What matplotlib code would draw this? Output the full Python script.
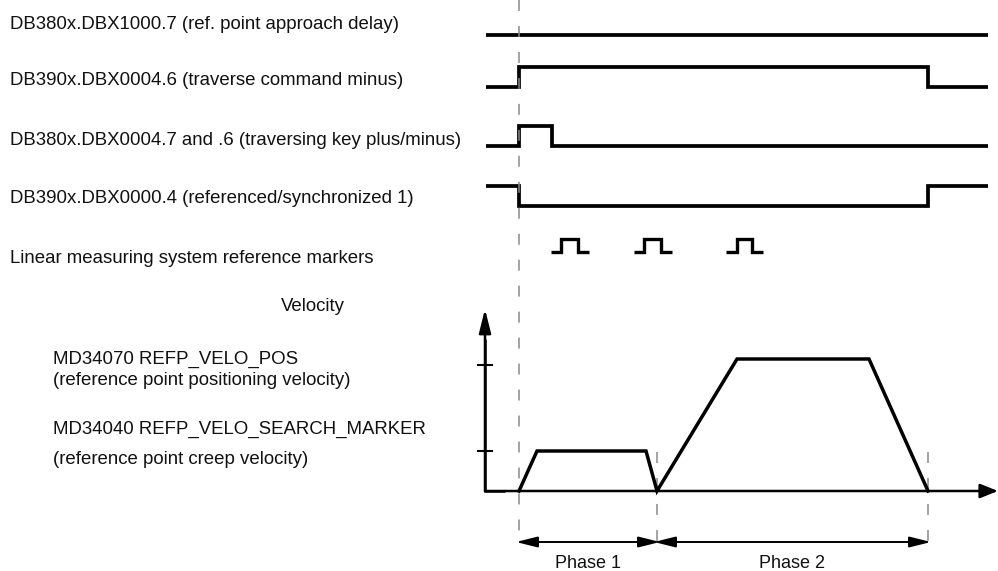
import matplotlib
matplotlib.use("Agg")
import matplotlib.pyplot as plt

plt.rcParams['font.family'] = ['Liberation Sans', 'DejaVu Sans']
plt.rcParams['lines.scale_dashes'] = False

# ---------------- data ----------------
# signal labels (top to bottom)
signal_labels = [
    "DB380x.DBX1000.7 (ref. point approach delay)",
    "DB390x.DBX0004.6 (traverse command minus)",
    "DB380x.DBX0004.7 and .6 (traversing key plus/minus)",
    "DB390x.DBX0000.4 (referenced/synchronized 1)",
    "Linear measuring system reference markers",
]
label_baselines = [29, 85, 145, 203, 263]

# time axis of the diagram (horizontal position units)
t_start, t_end = 486, 988
t_on = 519           # start of reference point approach
t_key_off = 552      # traversing key released
t_sync = 657         # reference marker found (end phase 1)
t_done = 928         # end of phase 2

# step signals: transition times and logic levels (steps-post)
sig1_t = [t_start, t_end]
sig1_v = [0, 0]
sig2_t = [t_start, t_on, t_done, t_end]
sig2_v = [0, 1, 0, 0]
sig3_t = [t_start, t_on, t_key_off, t_end]
sig3_v = [0, 1, 0, 0]
sig4_t = [t_start, t_on, t_done, t_end]
sig4_v = [1, 0, 1, 1]
signal_low = [35, 87, 146, 206]
signal_high_gap = 20

# reference marker pulses: (start, rise, fall, end)
marker_pulses = [(551, 561, 578, 589), (634, 644, 661, 672), (726, 737, 752, 763)]
marker_low, marker_height = 252, 13

# velocity profile
vel_t = [519, 537, 646, 657, 737, 869, 928]
vel_v = [0, 40, 40, 0, 132, 132, 0]
vel_ticks = [40, 126]
vel_axis_x, vel_axis_y = 485, 491
vel_axis_top = 309
time_axis_end = 998

vel_labels = ["MD34070 REFP_VELO_POS",
              "(reference point positioning velocity)",
              "MD34040 REFP_VELO_SEARCH_MARKER",
              "(reference point creep velocity)"]
vel_label_baselines = [364, 385, 434, 464]

phases = [("Phase 1", t_on, t_sync), ("Phase 2", t_sync, t_done)]

# ---------------- figure ----------------
fig = plt.figure(figsize=(9.98, 5.71), dpi=100)
ax = fig.add_axes([0, 0, 1, 1])
ax.set_xlim(0, 998)
ax.set_ylim(571, 0)
ax.axis('off')

FS = 13.45
TXT = '#111111'
# labels
for lab, yb in zip(signal_labels, label_baselines):
    ax.text(10, yb, lab, fontsize=FS, ha='left', va='baseline', color=TXT)

# step signals
for t, v, low in zip([sig1_t, sig2_t, sig3_t, sig4_t],
                     [sig1_v, sig2_v, sig3_v, sig4_v], signal_low):
    y = [low - signal_high_gap * vv for vv in v]
    ax.plot(t, y, drawstyle='steps-post', color='black', lw=2.7,
            solid_joinstyle='miter', solid_capstyle='butt')

# marker pulses
for (a, b, c, d) in marker_pulses:
    xs = [a, b, b, c, c, d]
    ys = [marker_low, marker_low, marker_low - marker_height,
          marker_low - marker_height, marker_low, marker_low]
    ax.plot(xs, ys, color='black', lw=2.4, solid_joinstyle='miter',
            solid_capstyle='butt')

# dashed guide lines
dash_kw = dict(color='#8a8a8a', lw=1.1, dashes=(7.9, 10.8))
ax.plot([t_on, t_on], [0, 545], **dash_kw)
ax.plot([t_sync, t_sync], [452, 545], **dash_kw)
ax.plot([t_done, t_done], [452, 545], **dash_kw)

# velocity axes
ax.plot([vel_axis_x, vel_axis_x, vel_axis_x + 20],
        [vel_axis_top + 30, vel_axis_y, vel_axis_y], color='black', lw=1.8,
        solid_joinstyle='miter', solid_capstyle='butt')
ax.annotate('', xy=(vel_axis_x, vel_axis_top), xytext=(vel_axis_x, vel_axis_y),
            arrowprops=dict(arrowstyle='-|>,head_length=0.4,head_width=0.1',
                            mutation_scale=36, lw=1.8, color='black',
                            shrinkA=0, shrinkB=0))
ax.annotate('', xy=(time_axis_end, vel_axis_y), xytext=(vel_axis_x, vel_axis_y),
            arrowprops=dict(arrowstyle='-|>,head_length=0.3,head_width=0.12',
                            mutation_scale=36, lw=1.8, color='black',
                            shrinkA=0, shrinkB=0))
for tv in vel_ticks:
    ax.plot([vel_axis_x - 7, vel_axis_x + 7], [vel_axis_y - tv] * 2,
            color='black', lw=1.5)

# velocity profile
ax.plot(vel_t, [vel_axis_y - v for v in vel_v], color='black', lw=2.5,
        solid_joinstyle='miter')

ax.text(313, 311, "Velocity", fontsize=FS, ha='center', va='baseline', color=TXT)
for lab, yb in zip(vel_labels, vel_label_baselines):
    ax.text(53, yb, lab, fontsize=FS, ha='left', va='baseline', color=TXT)

# phase arrows
for name, a, b in phases:
    ax.annotate('', xy=(a - 3, 542), xytext=(b + 3, 542),
                arrowprops=dict(arrowstyle='<|-|>,head_length=0.36,head_width=0.09',
                                mutation_scale=36, lw=1.4, color='black',
                                shrinkA=0, shrinkB=0))
    ax.text((a + b) / 2, 568, name, fontsize=13, ha='center', va='baseline',
            color=TXT)

fig.savefig('out.png', dpi=100)
